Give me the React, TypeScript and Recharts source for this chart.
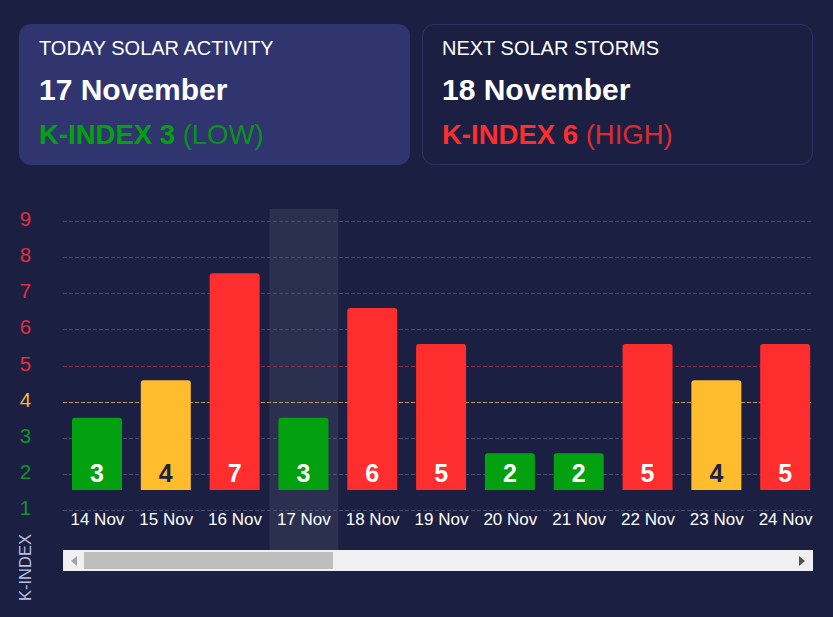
import { BarChart, Bar, Cell, XAxis, YAxis, ReferenceArea, ReferenceLine, LabelList } from "recharts";

const GREEN = "#03a10f";
const ORANGE = "#ffbd2e";
const RED = "#ff2e2e";
const BG = "#1b1f42";

const days = ["14 Nov", "15 Nov", "16 Nov", "17 Nov", "18 Nov", "19 Nov", "20 Nov", "21 Nov", "22 Nov", "23 Nov", "24 Nov"];
const kIndex = [3, 4, 7, 3, 6, 5, 2, 2, 5, 4, 5];
// bar tops as read off the picture, not quite on the whole numbers
const barTops = [3, 4.04, 7, 3, 6.04, 5.04, 2.02, 2.02, 5.04, 4.04, 5.04];
const levels = [1, 2, 3, 4, 5, 6, 7, 8, 9];

const data = days.map((day, i) => ({ day, k: kIndex[i], range: [1, barTops[i]] }));

const barColor = (k: number) => (k <= 3 ? GREEN : k === 4 ? ORANGE : RED);
const levelColor = (k: number) => (k <= 3 ? "#14912b" : k === 4 ? "#f0b73c" : "#e22d42");
const lineColor = (k: number) => (k <= 3 ? "#4a4d70" : k === 4 ? "#b89a58" : "#8c2f4c");

const LevelTick = ({ y, payload }: any) => (
  <text x={25.5} y={y + 4.5} textAnchor="middle" fontSize={20.5} fill={levelColor(payload.value)}>
    {payload.value}
  </text>
);

const DayTick = ({ x, payload }: any) => (
  <text x={x} y={325} textAnchor="middle" fontSize={17} fill="#ffffff">
    {payload.value}
  </text>
);

const BarNumber = ({ x, y, width, height, index }: any) => {
  const k = kIndex[index];
  return (
    <text
      x={x + width / 2}
      y={y + height - 8}
      textAnchor="middle"
      fontSize={25}
      fontWeight="bold"
      fill={k === 4 ? "#1e2140" : "#ffffff"}
    >
      {k}
    </text>
  );
};

const cardStyle: React.CSSProperties = {
  position: "absolute",
  top: 24,
  width: 391,
  height: 141,
  boxSizing: "border-box",
  borderRadius: 12,
  color: "#fff",
};

const Card = ({ left, active, title, date, k, word, color }: any) => {
  const inset = active ? 0 : 1; // the border moves the absolute children
  return (
    <div
      style={{
        ...cardStyle,
        left,
        background: active ? "#30356f" : "transparent",
        border: active ? "none" : "1px solid #2f3363",
      }}
    >
      <div style={{ position: "absolute", left: 20 - inset, top: 12 - inset, fontSize: 20, lineHeight: "24px" }}>{title}</div>
      <div style={{ position: "absolute", left: 20 - inset, top: 47 - inset, fontSize: 30, lineHeight: "38px", fontWeight: "bold" }}>{date}</div>
      <div style={{ position: "absolute", left: 20 - inset, top: 95 - inset, fontSize: 27.5, lineHeight: "32px", color, whiteSpace: "nowrap" }}>
        <b>K-INDEX {k}</b> <span style={{ opacity: 0.85 }}>({word})</span>
      </div>
    </div>
  );
};

export default function App() {
  return (
    <div
      style={{
        position: "absolute",
        left: 0,
        top: 0,
        width: 833,
        height: 617,
        overflow: "hidden",
        background: BG,
        fontFamily: "'Liberation Sans', Arial, sans-serif",
      }}
    >
      <Card left={19} active title="TODAY SOLAR ACTIVITY" date="17 November" k={3} word="LOW" color={GREEN} />
      <Card left={422} title="NEXT SOLAR STORMS" date="18 November" k={6} word="HIGH" color={RED} />

      <div style={{ position: "absolute", left: 0, top: 200, width: 813, height: 360, overflow: "hidden" }}>
        <BarChart
          width={820}
          height={360}
          data={data}
          margin={{ top: 9, right: 0, bottom: 0, left: 0 }}
          barSize={50}
        >
          <XAxis
            dataKey="day"
            xAxisId="days"
            axisLine={false}
            tickLine={false}
            interval={0}
            height={10}
            tick={<DayTick />}
          />
          {/* the bars sit on 1, drawn 20px above the line of level 1 */}
          <YAxis yAxisId="bars" hide allowDataOverflow domain={[-0.661, 8.778]} />
          <YAxis
            yAxisId="levels"
            width={63}
            allowDataOverflow
            domain={[-0.093, 9.346]}
            ticks={levels}
            interval={0}
            axisLine={false}
            tickLine={false}
            tick={<LevelTick />}
          />
          <ReferenceArea
            xAxisId="days"
            yAxisId="levels"
            x1="17 Nov"
            x2="17 Nov"
            fill="#ffffff"
            fillOpacity={0.08}
            stroke="none"
            zIndex={50}
          />
          {levels.map((k) => (
            <ReferenceLine
              key={k}
              xAxisId="days"
              yAxisId="levels"
              y={k}
              stroke={lineColor(k)}
              strokeDasharray="4 2"
              shapeRendering="crispEdges"
              zIndex={60}
            />
          ))}
          <Bar dataKey="range" xAxisId="days" yAxisId="bars" radius={[3, 3, 0, 0]} isAnimationActive={false}>
            {data.map((d) => (
              <Cell key={d.day} fill={barColor(d.k)} />
            ))}
            <LabelList dataKey="k" content={<BarNumber />} />
          </Bar>
        </BarChart>
      </div>

      <div
        style={{
          position: "absolute",
          left: 25,
          top: 601,
          fontSize: 16.5,
          color: "#b9bde2",
          transformOrigin: "0 0",
          transform: "rotate(-90deg) translateY(-50%)",
          whiteSpace: "nowrap",
        }}
      >
        K-INDEX
      </div>

      <div style={{ position: "absolute", left: 63, top: 550, width: 750, height: 21, background: "#f0f0f2" }}>
        <div style={{ position: "absolute", left: 21, top: 2, width: 249, height: 17, background: "#bdbdbe" }} />
        <div
          style={{
            position: "absolute",
            left: 8,
            top: 6,
            borderStyle: "solid",
            borderWidth: "5px 6px 5px 0",
            borderColor: "transparent #a3a3a3 transparent transparent",
          }}
        />
        <div
          style={{
            position: "absolute",
            right: 8,
            top: 6,
            borderStyle: "solid",
            borderWidth: "5px 0 5px 6px",
            borderColor: "transparent transparent transparent #505050",
          }}
        />
      </div>
    </div>
  );
}
